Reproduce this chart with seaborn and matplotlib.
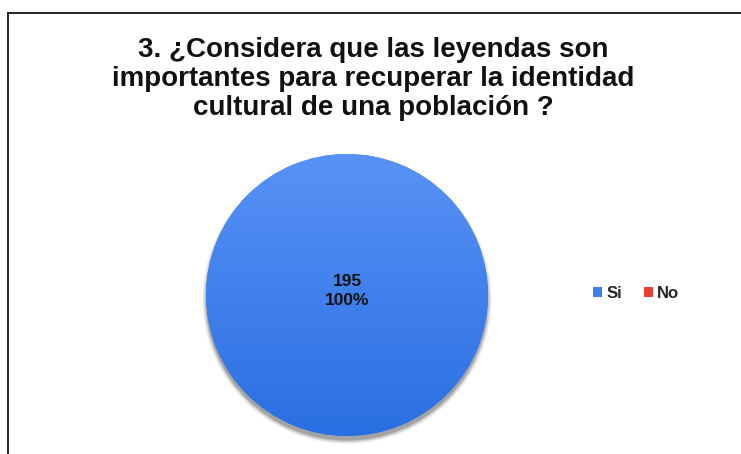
import numpy as np
import matplotlib
matplotlib.use("Agg")
import matplotlib.pyplot as plt
import seaborn as sns
from matplotlib.lines import Line2D
from matplotlib.patches import Patch, Circle
from matplotlib.colors import LinearSegmentedColormap

categories = ["Si", "No"]
values = [195, 0]
percent_labels = ["100%", "0%"]
title = "3. ¿Considera que las leyendas son\nimportantes para recuperar la identidad\ncultural de una población ?"
colors = ["#3f7fea", "#e8412f"]

sns.set_theme(style="white")
plt.rcParams['font.family'] = ['Liberation Sans', 'DejaVu Sans']

W, H = 741, 454
fig = plt.figure(figsize=(W/100, H/100), dpi=100)
fig.patch.set_facecolor("white")

# border lines (left and top)
fig.add_artist(Line2D([7.5/W, 7.5/W], [0, 1 - 12.5/H], color="black", lw=1.2, transform=fig.transFigure))
fig.add_artist(Line2D([7.5/W, 1], [1 - 12.5/H, 1 - 12.5/H], color="black", lw=1.2, transform=fig.transFigure))

fig.text(373/W, 1 - 79/H, title, ha="center", va="center", fontsize=20,
         fontweight="bold", linespacing=1.17, color="#111111")

cx, cy, r = 347, 295, 141
pad = 1.06
ax = fig.add_axes([(cx - r*pad)/W, 1 - (cy + r*pad)/H, 2*r*pad/W, 2*r*pad/H])
ax.set_aspect("equal")

# shadow
for i, a in enumerate(np.linspace(0.12, 0.02, 6)):
    ax.add_patch(Circle((0, -0.03), 1.0 + 0.006*i, color="black", alpha=a, lw=0, zorder=0))

wedges, _ = ax.pie(values, colors=colors, startangle=90, counterclock=False,
                   radius=1.0, wedgeprops=dict(linewidth=0))
for w in wedges:
    w.set_zorder(1)

# vertical gradient on the main wedge
cmap = LinearSegmentedColormap.from_list("g", ["#5892f6", "#2a6fe2"])
grad = np.linspace(0, 1, 256).reshape(-1, 1)
im = ax.imshow(grad, cmap=cmap, extent=[-1, 1, -1, 1], origin="upper", zorder=2, aspect="auto")
im.set_clip_path(wedges[0])

ax.text(0, 0.03, f"{values[0]}\n{percent_labels[0]}", ha="center", va="center",
        fontsize=12.5, fontweight="bold", color="#111111", linespacing=1.3, zorder=3)
ax.set_xlim(-pad, pad)
ax.set_ylim(-pad, pad)
ax.axis("off")

handles = [Patch(facecolor=c, edgecolor="none") for c in colors]
leg = fig.legend(handles, categories, loc="center", bbox_to_anchor=(636/W, 1 - 293/H),
                 ncol=2, frameon=False, prop=dict(size=12, weight="bold"),
                 handlelength=0.55, handleheight=0.55, handletextpad=0.25, columnspacing=1.3)

fig.savefig("out.png", dpi=100, facecolor="white")
